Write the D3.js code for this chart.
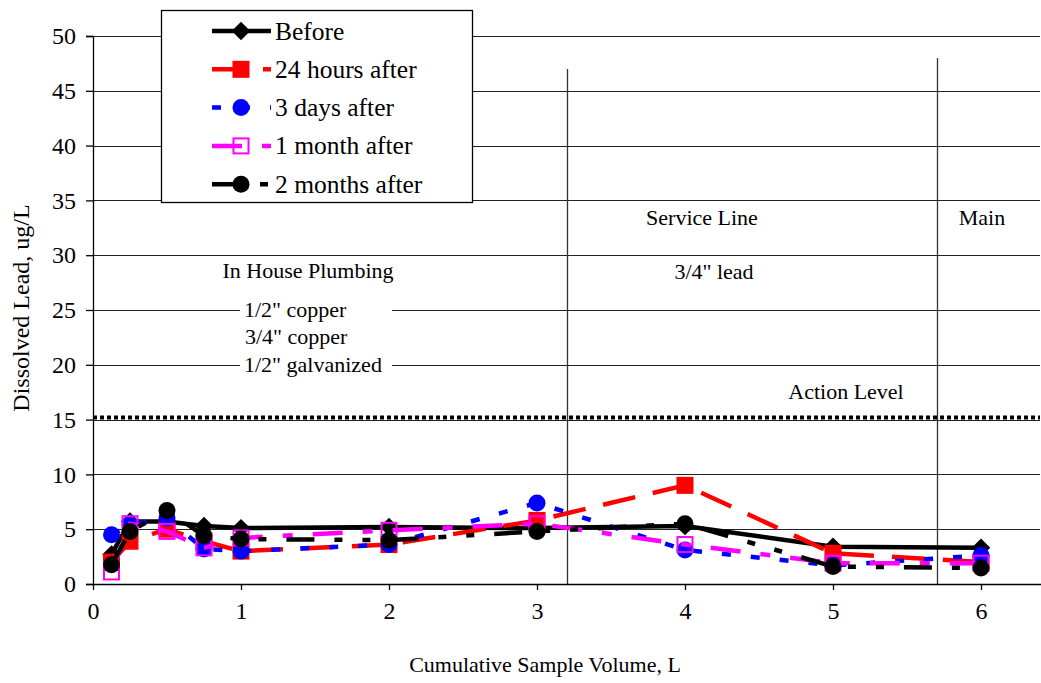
<!DOCTYPE html>
<html lang="en">
<head>
  <meta charset="UTF-8">
  <title>Dissolved Lead</title>
  <script src="https://d3js.org/d3.v7.min.js"></script>
  <style>
    body { margin: 0; background: #fff; }
    text { font-family: "Liberation Serif", "Times New Roman", serif; fill: #000; }
  </style>
</head>
<body>
  <div class="main"></div>
<script>

  // values
  const volumes = [0.125, 0.25, 0.5, 0.75, 1, 2, 3, 4, 5, 6];
  const before = [2.7, 5.7, 5.7, 5.3, 5.1, 5.2, 5.1, 5.3, 3.4, 3.3];
  const hours24 = [2.0, 3.9, 5.0, 3.9, 3.0, 3.6, 5.8, 9.0, 2.8, 2.0];
  const days3 = [4.5, 5.4, 6.0, 3.2, 3.0, 3.6, 7.4, 3.1, 1.7, 2.6];
  const month1 = [1.1, 5.5, 4.8, 3.3, 4.2, 4.9, 5.5, 3.6, 1.9, 1.9];
  const months2 = [1.75, 4.8, 6.7, 4.4, 4.1, 4.0, 4.8, 5.5, 1.6, 1.45];

  const seriesNames = ["Before", "24 hours after", "3 days after", "1 month after", "2 months after"];
  const xTicks = [0, 1, 2, 3, 4, 5, 6];
  const yTicks = [0, 5, 10, 15, 20, 25, 30, 35, 40, 45, 50];
  const actionLevel = 15.2;
  const sectionBreaks = [3.2, 5.7];

  const width = 1041, height = 683;
  const plotLeft = 93, plotRight = 1040, plotTop = 36, plotBottom = 584;

  let svg = d3.select(".main").append("svg")
          .attr("width", width)
          .attr("height", height)
          .style("display", "block");

  let xScale = d3.scaleLinear().domain([0, 6.4]).range([plotLeft, plotLeft + 6.4 * 148]);
  let yScale = d3.scaleLinear().domain([0, 50]).range([plotBottom, plotTop]);

  // grid lines
  svg.append("g").selectAll("line")
          .data(yTicks.slice(1))
          .join("line")
          .attr("x1", plotLeft).attr("x2", plotRight)
          .attr("y1", d => Math.round(yScale(d)) + 0.5)
          .attr("y2", d => Math.round(yScale(d)) + 0.5)
          .style("stroke", "#222")
          .style("stroke-width", 1);

  // white text box behind the pipe sizes
  svg.append("rect")
          .attr("x", 240).attr("y", 297)
          .attr("width", 152).attr("height", 80)
          .style("fill", "#fff");

  // section dividers
  let breakTops = [47, 48];
  svg.append("g").selectAll("line")
          .data(sectionBreaks)
          .join("line")
          .attr("x1", d => Math.round(xScale(d)) + 0.5)
          .attr("x2", d => Math.round(xScale(d)) + 0.5)
          .attr("y1", (d, i) => yScale(breakTops[i]))
          .attr("y2", plotBottom)
          .style("stroke", "#333")
          .style("stroke-width", 1.3);

  // action level
  svg.append("line")
          .attr("x1", plotLeft).attr("x2", plotRight)
          .attr("y1", yScale(actionLevel)).attr("y2", yScale(actionLevel))
          .style("stroke", "#000")
          .style("stroke-width", 4)
          .style("stroke-dasharray", "4,3");

  // axes
  let xAxis = d3.axisBottom(xScale).tickValues(xTicks).tickSize(6).tickPadding(12).tickFormat(d3.format("d"));
  let yAxis = d3.axisLeft(yScale).tickValues(yTicks).tickSize(7).tickPadding(10).tickFormat(d3.format("d"));

  let gx = svg.append("g").attr("transform", `translate(0,${plotBottom})`).call(xAxis);
  gx.select(".domain").attr("d", `M${plotLeft},0.5H${width}`);
  let gy = svg.append("g").attr("transform", `translate(${plotLeft},0)`).call(yAxis);

  [gx, gy].forEach(g => {
    g.selectAll("text").style("font-size", "24px").style("font-family", '"Liberation Serif", serif');
    g.selectAll("line, path").style("stroke", "#000").style("stroke-width", 1.3);
  });

  // annotations
  let notes = [
    {t: "Service Line", x: 702, y: 225, a: "middle"},
    {t: "Main", x: 982, y: 225, a: "middle"},
    {t: "In House Plumbing", x: 308, y: 278, a: "middle"},
    {t: "3/4\" lead", x: 714, y: 279, a: "middle"},
    {t: "1/2\" copper", x: 244, y: 317, a: "start"},
    {t: "3/4\" copper", x: 245, y: 344, a: "start"},
    {t: "1/2\" galvanized", x: 244, y: 372, a: "start"},
    {t: "Action Level", x: 846, y: 399, a: "middle"}
  ];
  svg.append("g").selectAll("text")
          .data(notes)
          .join("text")
          .attr("x", d => d.x).attr("y", d => d.y)
          .attr("text-anchor", d => d.a)
          .style("font-size", "22px")
          .text(d => d.t);

  // axis titles
  svg.append("text")
          .attr("x", 545).attr("y", 672)
          .attr("text-anchor", "middle")
          .style("font-size", "22px")
          .text("Cumulative Sample Volume, L");
  svg.append("text")
          .attr("transform", "translate(29,308) rotate(-90)")
          .attr("text-anchor", "middle")
          .style("font-size", "24px")
          .text("Dissolved Lead, ug/L");

  // series styles
  let styles = [
    {values: before, color: "#000", dash: null, marker: "diamond"},
    {values: hours24, color: "#ff0000", dash: "33,18", marker: "square"},
    {values: days3, color: "#0000ff", dash: "9,20", marker: "circle"},
    {values: month1, color: "#ff00ff", dash: "30,20,10,20", marker: "open"},
    {values: months2, color: "#000", dash: "28,20,8,20,8,20", marker: "circle"}
  ];

  let line = d3.line()
          .x(d => xScale(d[0]))
          .y(d => yScale(d[1]));

  function drawMarker(g, kind, color, cx, cy) {
    if (kind == "circle") {
      g.append("circle").attr("cx", cx).attr("cy", cy).attr("r", 8.5).style("fill", color);
    } else if (kind == "square") {
      g.append("rect").attr("x", cx - 8.5).attr("y", cy - 8.5).attr("width", 17).attr("height", 17).style("fill", color);
    } else if (kind == "open") {
      g.append("rect").attr("x", cx - 7.5).attr("y", cy - 7.5).attr("width", 15).attr("height", 15)
              .style("fill", "none").style("stroke", color).style("stroke-width", 2);
    } else {
      g.append("path")
              .attr("d", d3.symbol(d3.symbolSquare, 170)())
              .attr("transform", `translate(${cx},${cy}) rotate(45)`)
              .style("fill", color);
    }
  }

  styles.forEach(s => {
    let pts = volumes.map((v, i) => [v, s.values[i]]);
    let g = svg.append("g");
    g.append("path")
            .datum(pts)
            .attr("d", line)
            .style("fill", "none")
            .style("stroke", s.color)
            .style("stroke-width", 4.5)
            .style("stroke-dasharray", s.dash);
    pts.forEach(p => drawMarker(g, s.marker, s.color, xScale(p[0]), yScale(p[1])));
  });

  // legend
  let legend = svg.append("g");
  legend.append("rect")
          .attr("x", 161.5).attr("y", 10.5)
          .attr("width", 311).attr("height", 192)
          .style("fill", "#fff")
          .style("stroke", "#000")
          .style("stroke-width", 1.3);

  styles.forEach((s, i) => {
    let ly = 31 + i * 38.3;
    legend.append("line")
            .attr("x1", 212).attr("x2", 271)
            .attr("y1", ly).attr("y2", ly)
            .style("stroke", s.color)
            .style("stroke-width", 4.5)
            .style("stroke-dasharray", s.dash);
    drawMarker(legend, s.marker, s.color, 241, ly);
    legend.append("text")
            .attr("x", 275).attr("y", ly + 8.5)
            .style("font-size", "25.5px")
            .text(seriesNames[i]);
  });

</script>
</body>
</html>
